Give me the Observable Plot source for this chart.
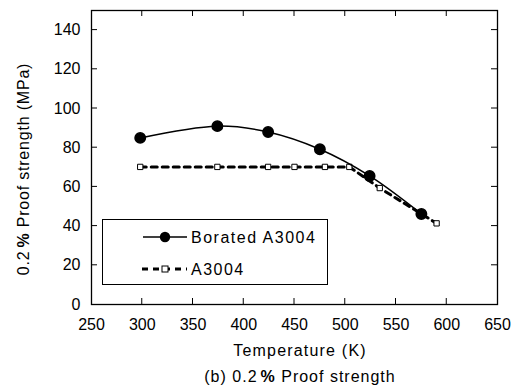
<!DOCTYPE html>
<html>
<head>
<meta charset="utf-8">
<script src="https://cdn.jsdelivr.net/npm/d3@7"></script>
<script src="https://cdn.jsdelivr.net/npm/@observablehq/plot@0.6"></script>
<style>
  html, body { margin: 0; padding: 0; background: #fff; }
  body { width: 526px; height: 389px; overflow: hidden; }
  #chart svg { display: block; font-family: "Liberation Sans", Arial, sans-serif; }
</style>
</head>
<body>
<div id="chart"></div>
<script>
// Data
const boratedTemp = [298, 374, 424, 475, 524, 575];
const boratedStrength = [85, 91, 88, 79.2, 65.6, 46.2];
const plainTemp = [298, 374, 424, 450, 480, 504, 534, 590];
const plainStrength = [70.2, 70.2, 70.2, 70.2, 70.2, 70.2, 59.4, 41.4];
const xTicks = [250, 300, 350, 400, 450, 500, 550, 600, 650];
const yTicks = [0, 20, 40, 60, 80, 100, 120, 140];
const seriesNames = ["Borated A3004", "A3004"];

const borated = boratedTemp.map((t, i) => ({t, s: boratedStrength[i]}));
const plain = plainTemp.map((t, i) => ({t, s: plainStrength[i]}));

const W = 526, H = 389;
const mL = 91, mR = 29, mT = 10, mB = 85;
const tickLen = 6;

const chart = Plot.plot({
  width: W, height: H,
  marginLeft: mL, marginRight: mR, marginTop: mT, marginBottom: mB,
  style: {fontFamily: "Liberation Sans, Arial, sans-serif", fontSize: "16px", color: "#000", background: "#fff"},
  x: {domain: [250, 650]},
  y: {domain: [0, 150]},
  marks: [
    Plot.axisX(xTicks, {tickSize: 0, tickPadding: 14, fontSize: 16, label: null, style: {letterSpacing: "2.4px"}}),
    Plot.axisY(yTicks, {tickSize: 0, tickPadding: 11, fontSize: 16, label: null, style: {letterSpacing: "2.4px"}}),
    Plot.frame({stroke: "#000", strokeWidth: 1.3}),
    // A3004 dashed
    Plot.line(plain, {x: "t", y: "s", stroke: "#000", strokeWidth: 3, strokeDasharray: "6,5"}),
    Plot.dot(plain, {x: "t", y: "s", symbol: "square", r: 3, fill: "#fff", stroke: "#000", strokeWidth: 1}),
    // Borated solid smooth
    Plot.line(borated, {x: "t", y: "s", stroke: "#000", strokeWidth: 1.5, curve: "catmull-rom"}),
    Plot.dot(borated, {x: "t", y: "s", r: 5.2, fill: "#000", stroke: "#000"})
  ]
});

document.getElementById("chart").appendChild(chart);

const svg = d3.select(chart);
const font = "Liberation Sans, Arial, sans-serif";
const sx = chart.scale("x"), sy = chart.scale("y");
const x0 = sx.apply(250), x1 = sx.apply(650), y0 = sy.apply(0), y1 = sy.apply(150);

// inward ticks on all four sides, positioned with Plot's scales
const tg = svg.append("g").attr("stroke", "#000").attr("stroke-width", 1);
xTicks.slice(1, -1).forEach(v => {
  const px = sx.apply(v);
  tg.append("line").attr("x1", px).attr("x2", px).attr("y1", y0).attr("y2", y0 - tickLen);
  tg.append("line").attr("x1", px).attr("x2", px).attr("y1", y1).attr("y2", y1 + tickLen);
});
yTicks.slice(1).forEach(v => {
  const py = sy.apply(v);
  tg.append("line").attr("x1", x0).attr("x2", x0 + tickLen).attr("y1", py).attr("y2", py);
  tg.append("line").attr("x1", x1).attr("x2", x1 - tickLen).attr("y1", py).attr("y2", py);
});

// Legend box
const lg = svg.append("g").attr("class", "legend").attr("text-anchor", "start");
lg.append("rect").attr("x", 102.5).attr("y", 219.5).attr("width", 225).attr("height", 65)
  .attr("fill", "#fff").attr("stroke", "#000").attr("stroke-width", 1);
lg.append("line").attr("x1", 143).attr("x2", 187).attr("y1", 237).attr("y2", 237)
  .attr("stroke", "#000").attr("stroke-width", 1.5);
lg.append("circle").attr("cx", 165).attr("cy", 237).attr("r", 5.2).attr("fill", "#000");
lg.append("line").attr("x1", 142).attr("x2", 187).attr("y1", 269).attr("y2", 269)
  .attr("stroke", "#000").attr("stroke-width", 3).attr("stroke-dasharray", "6,5");
lg.append("rect").attr("x", 162).attr("y", 266).attr("width", 6).attr("height", 6)
  .attr("fill", "#fff").attr("stroke", "#000");
lg.append("text").attr("x", 191).attr("y", 243).attr("font-family", font).attr("font-size", 16)
  .attr("letter-spacing", "1.5px").attr("fill", "#000").text(seriesNames[0]);
lg.append("text").attr("x", 191).attr("y", 275).attr("font-family", font).attr("font-size", 16)
  .attr("letter-spacing", "1.5px").attr("fill", "#000").text(seriesNames[1]);

// X axis label
svg.append("text").attr("x", 300).attr("y", 356).attr("text-anchor", "middle")
  .attr("font-family", font).attr("font-size", 16).attr("letter-spacing", "1.2px").attr("fill", "#000")
  .text("Temperature (K)");

// Caption
const cap = svg.append("text").attr("x", 300).attr("y", 382).attr("text-anchor", "middle")
  .attr("font-family", font).attr("font-size", 16).attr("letter-spacing", "1px").attr("fill", "#000");
cap.append("tspan").text("(b) 0.2");
cap.append("tspan").attr("font-weight", "bold").attr("dx", 3).text("%");
cap.append("tspan").text(" Proof strength");

// Y axis label (rotated)
const yl = svg.append("text").attr("transform", "translate(29,169) rotate(-90)").attr("text-anchor", "middle")
  .attr("font-family", font).attr("font-size", 16).attr("letter-spacing", "0.8px").attr("fill", "#000");
yl.append("tspan").text("0.2");
yl.append("tspan").attr("font-weight", "bold").attr("dx", 3).text("%");
yl.append("tspan").text(" Proof strength (MPa)");
</script>
</body>
</html>
